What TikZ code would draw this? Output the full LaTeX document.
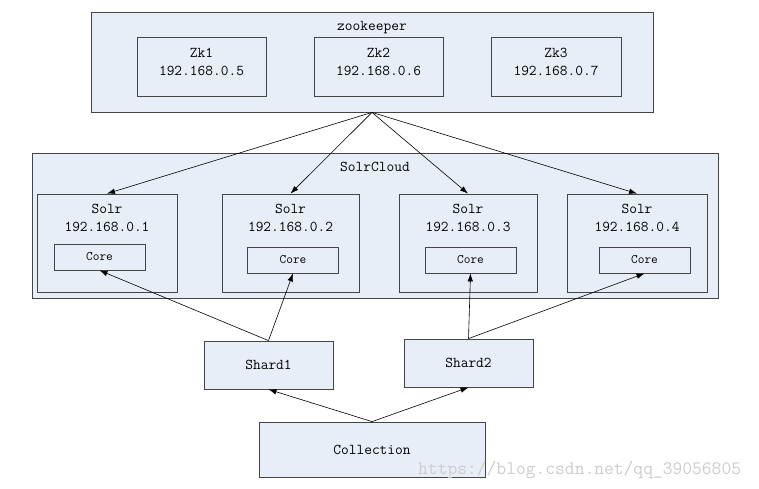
\documentclass[tikz,border=0pt]{standalone}
\usepackage{fontspec}
\usetikzlibrary{arrows.meta}

\definecolor{boxfill}{HTML}{E8EEF8}
\definecolor{boxline}{HTML}{454545}
\newcommand{\boxfont}{\fontsize{15}{18}\selectfont\ttfamily}
\newcommand{\corefont}{\fontsize{13}{15}\selectfont\ttfamily}
\newcommand{\markfont}{\fontsize{19}{22}\selectfont\ttfamily}

\begin{document}
\begin{tikzpicture}[x=1pt, y=-1pt,
    box/.style={draw=boxline, fill=boxfill, line width=0.8pt, inner sep=0pt, font=\boxfont},
    lbl/.style={anchor=north, align=center, inner sep=0pt, yshift=-9pt, font=\boxfont},
    arr/.style={-{Latex[length=8pt, width=5.5pt]}, line width=0.6pt}]
    \useasboundingbox (0,0) rectangle (759,489);

    % zookeeper 集群
    \node[box, minimum width=562pt, minimum height=100pt,
          label={[lbl, yshift=-1pt]north:zookeeper}] (zk) at (372,62) {};
    \node[box, minimum width=129pt, minimum height=59pt,
          label={[lbl, yshift=-2pt]north:Zk1\\192.168.0.5}] (zk1) at (201.5,66.5) {};
    \node[box, minimum width=129pt, minimum height=59pt,
          label={[lbl, yshift=-2pt]north:Zk2\\192.168.0.6}] (zk2) at (378.5,66.5) {};
    \node[box, minimum width=130pt, minimum height=59pt,
          label={[lbl, yshift=-2pt]north:Zk3\\192.168.0.7}] (zk3) at (556,66.5) {};

    % SolrCloud
    \node[box, minimum width=686pt, minimum height=145pt,
          label={[lbl]north:SolrCloud}] (cloud) at (375,225.5) {};
    \node[box, minimum width=140pt, minimum height=98pt,
          label={[lbl, yshift=-1pt]north:Solr\\192.168.0.1}] (solr1) at (107,243) {};
    \node[box, minimum width=137pt, minimum height=98pt,
          label={[lbl, yshift=-1pt]north:Solr\\192.168.0.2}] (solr2) at (290.5,243) {};
    \node[box, minimum width=138pt, minimum height=98pt,
          label={[lbl, yshift=-1pt]north:Solr\\192.168.0.3}] (solr3) at (468,243) {};
    \node[box, minimum width=140pt, minimum height=98pt,
          label={[lbl, yshift=-1pt]north:Solr\\192.168.0.4}] (solr4) at (637,243) {};

    % Core
    \node[box, minimum width=91pt, minimum height=26pt, font=\corefont] (core1) at (99.5,257) {Core};
    \node[box, minimum width=91pt, minimum height=26pt, font=\corefont] (core2) at (293,260) {Core};
    \node[box, minimum width=91pt, minimum height=26pt, font=\corefont] (core3) at (470.5,260) {Core};
    \node[box, minimum width=91pt, minimum height=26pt, font=\corefont] (core4) at (644.5,260) {Core};

    % Shard 与 Collection
    \node[box, minimum width=129pt, minimum height=48pt] (shard1) at (268.5,365) {Shard1};
    \node[box, minimum width=129pt, minimum height=48pt] (shard2) at (468.5,363) {Shard2};
    \node[box, minimum width=226pt, minimum height=55pt] (coll) at (372,449.5) {Collection};

    % 连线
    \draw[arr] (zk.south) -- (solr1.north);
    \draw[arr] (zk.south) -- (solr2.north);
    \draw[arr] (zk.south) -- (solr3.north);
    \draw[arr] (zk.south) -- (solr4.north);
    \draw[arr] (shard1.north) -- (core1.south);
    \draw[arr] (shard1.north) -- (core2.south);
    \draw[arr] (shard2.north) -- (core3.south);
    \draw[arr] (shard2.north) -- (core4.south);
    \draw[arr] (coll.north) -- (shard1.south);
    \draw[arr] (coll.north) -- (shard2.south);

    % 水印
    \node[anchor=base west, inner sep=0pt, text=black!20, font=\markfont] (mark) at (418,474)
        {https://blog.csdn.net/qq\_39056805};
\end{tikzpicture}
\end{document}
